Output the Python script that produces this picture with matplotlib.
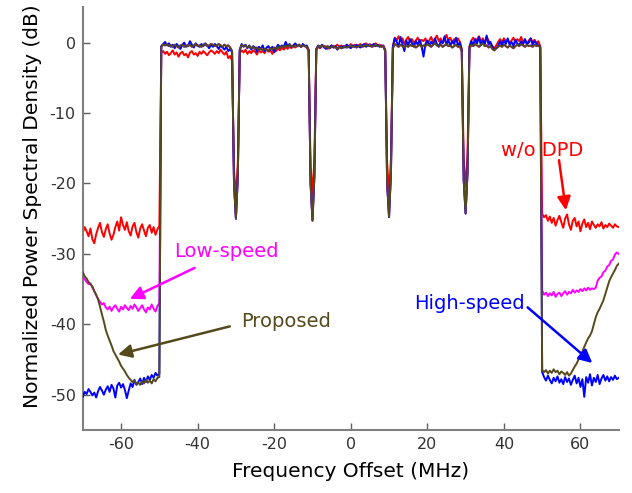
import matplotlib
matplotlib.use("Agg")
import matplotlib.pyplot as plt
import numpy as np

# frequency grid, 0.5 MHz steps from -70 to 70 MHz
freq = np.arange(-70, 70.25, 0.5)

# ---- out-of-band, left side (-70 .. -50 MHz) ----
red_left = [-27.0, -26.2, -26.8, -27.5, -26.4, -27.9, -28.5, -27.2, -26.3, -25.6,
            -26.9, -27.6, -26.5, -25.8, -27.1, -28.0, -27.3, -26.2, -25.4, -26.7,
            -24.8, -25.9, -26.6, -25.5, -26.8, -27.4, -26.1, -25.6, -26.9, -27.7,
            -26.4, -25.8, -26.7, -27.5, -26.3, -25.9, -27.0, -26.2, -27.3, -26.5,
            -26.0]
low_left = [-33.3, -33.6, -34.0, -34.3, -34.2, -34.8, -35.3, -35.9, -36.4, -36.8,
            -37.2, -37.0, -37.6, -37.9, -37.5, -38.1, -37.6, -37.3, -37.8, -38.2,
            -37.5, -37.9, -37.3, -37.7, -38.0, -37.4, -37.8, -37.2, -37.6, -38.1,
            -37.7, -37.3, -37.9, -38.3, -37.6, -37.9, -37.2, -37.8, -38.2, -37.4,
            -37.0]
high_left = [-50.3, -49.6, -49.9, -49.2, -49.6, -50.1, -49.7, -50.4, -49.5, -48.9,
             -49.4, -50.0, -49.3, -48.8, -49.6, -48.6, -49.1, -50.4, -48.7, -48.3,
             -49.0, -48.5, -49.3, -50.5, -49.4, -48.4, -48.9, -47.9, -48.6, -48.2,
             -47.7, -48.5, -47.6, -48.2, -47.4, -47.9, -47.2, -47.6, -46.9, -47.3,
             -47.0]
prop_left = [-32.6, -33.2, -33.5, -34.0, -34.3, -34.6, -35.3, -35.8, -36.5, -37.5,
             -38.6, -39.6, -40.8, -41.6, -42.3, -43.0, -43.8, -44.3, -44.8, -45.3,
             -45.9, -46.3, -46.7, -47.2, -47.6, -47.9, -48.2, -48.0, -48.5, -48.3,
             -48.6, -48.1, -48.4, -47.9, -48.3, -48.0, -48.4, -47.8, -48.1, -47.6,
             -47.5]

# ---- in-band (-49.5 .. 49.5 MHz): 5 carriers with gaps at -30, -10, 10, 30 ----
red_band = [
    -1.4, -1.2, -1.6, -1.3, -1.8, -1.5, -1.1, -1.7, -1.4, -2.0,
    -1.5, -1.3, -1.8, -1.6, -2.1, -1.4, -1.2, -1.7, -1.5, -1.9,
    -1.3, -1.6, -1.2, -1.5, -1.8, -1.4, -1.1, -1.3, -1.6, -1.2,
    -1.5, -1.0, -1.4, -1.7, -1.3, -2.2, -1.9, -2.6,
    -18.0, -22.0, -17.0,
    -1.5, -1.1, -1.4, -1.0, -1.6, -1.2, -1.5, -1.1, -1.3, -1.7,
    -1.0, -1.4, -1.2, -1.5, -0.9, -1.3, -1.1, -1.6, -1.0, -1.2,
    -0.8, -1.1, -0.7, -1.0, -0.6, -0.9, -0.5, -0.8, -0.4, -0.7,
    -0.5, -0.3, -0.6, -0.4, -0.5, -0.7, -1.2,
    -17.5, -21.5, -16.5,
    -1.0, -0.6, -0.8, -0.4, -0.7, -0.5, -0.9, -0.6, -0.4, -0.7,
    -0.5, -0.3, -0.6, -0.4, -0.7, -0.5, -0.3, -0.6, -0.2, -0.5,
    -0.3, -0.6, -0.4, -0.2, -0.5, -0.3, -0.1, -0.4, -0.2, -0.5,
    -0.3, -0.1, -0.4, -0.3, -0.5, -0.4, -1.0,
    -17.0, -21.3, -16.5,
    -0.5, 0.7, 0.3, 0.9, 0.2, 0.6, -0.2, 0.4, 0.8, 0.1,
    0.5, -0.1, 0.3, 0.7, 0.0, 0.4, 0.2, 0.6, -0.2, 0.3,
    0.8, 0.1, 0.5, 1.0, 0.2, 0.6, -0.1, 0.4, 1.1, 0.3,
    0.7, 0.0, 0.5, 0.2, 0.6, 0.1, -0.9,
    -16.5, -20.5, -16.0,
    -0.6, 0.3, 0.7, 0.1, 0.5, 0.9, 0.2, 0.6, -0.1, 0.8,
    0.3, -0.2, -0.5, -0.8, -0.4, 0.1, 0.5, 0.0, 0.6, 0.2,
    0.4, -0.1, 0.3, 0.7, 0.0, 0.5, 0.2, 0.8, 0.1, 0.4,
    -0.2, 0.3, 0.6, 0.1, 0.4, -0.1, 0.2, -0.5]
high_band = [
    -0.5, -0.2, 0.1, -0.4, -0.1, -0.6, -0.3, -0.8, -0.2, -0.5,
    -0.9, -0.3, 0.0, -0.6, -0.4, 0.2, -0.3, -0.7, -0.1, -0.4,
    -0.6, -0.2, -0.5, -0.1, -0.4, -0.8, -0.3, -0.6, -0.2, -0.5,
    -0.9, -0.4, -0.7, -1.0, -0.6, -1.2, -0.9, -1.4,
    -20.0, -25.0, -19.0,
    -1.1, -0.2, -0.6, -0.3, -0.8, -0.4, -1.0, -0.5, -0.7, -1.3,
    -0.6, -0.9, -0.4, -1.2, -0.7, -0.5, -1.0, -0.6, -1.4, -0.8,
    -0.3, -0.7, -0.4, -0.6, 0.1, -0.5, -0.2, -0.6, -0.4, -0.1,
    -0.5, -0.3, -0.6, -0.2, -0.5, -0.4, -1.0,
    -20.0, -25.2, -19.0,
    -0.9, -0.4, -0.7, -0.3, -0.6, -0.9, -0.5, -0.8, -0.4, -0.7,
    -0.5, -1.0, -0.6, -0.8, -0.5, -0.7, -0.3, -0.6, -0.8, -0.4,
    -0.6, -0.3, -0.5, -0.7, -0.4, -0.2, -0.6, -0.3, -0.5, -0.4,
    -0.2, -0.5, -0.3, -0.6, -0.4, -0.5, -1.1,
    -20.0, -24.8, -18.5,
    -0.6, 0.6, 0.1, -0.5, 0.8, -0.2, -1.2, 0.3, -0.4, 0.5,
    -0.1, -0.6, 0.2, -0.3, 0.4, -0.5, -2.0, -0.2, 0.3, -0.4,
    0.1, -0.3, 0.6, -0.2, -0.6, 0.2, -0.1, 0.9, -0.3, 0.4,
    -0.5, 0.2, -0.2, 0.7, -0.4, 0.0, -1.1,
    -19.5, -24.3, -18.5,
    -0.7, 0.2, -0.3, 0.5, -0.1, 0.8, -0.4, 0.3, -0.2, 1.0,
    -0.3, 0.1, -0.6, -1.0, -0.8, -0.5, 0.2, -0.4, 0.3, -0.2,
    0.6, -0.3, 0.1, -0.5, 0.4, -0.1, -0.4, 0.2, -0.3, 0.5,
    -0.2, 0.0, 0.6, -0.3, 0.2, -0.1, -0.4, -0.6]
prop_band = [
    -0.6, -0.3, -0.4, -0.2, -0.5, -0.4, -0.6, -0.3, -0.5, -0.7,
    -0.4, -0.3, -0.6, -0.4, -0.5, -0.3, -0.6, -0.4, -0.2, -0.5,
    -0.4, -0.6, -0.3, -0.2, -0.5, -0.4, -0.2, -0.3, -0.5, -0.4,
    -0.2, -0.4, -0.6, -0.3, -0.5, -0.4, -0.7, -1.2,
    -20.0, -25.0, -19.0,
    -1.0, -0.3, -0.5, -0.4, -0.7, -0.5, -0.8, -0.6, -0.9, -0.7,
    -1.0, -0.8, -1.1, -0.9, -1.0, -1.2, -0.8, -1.0, -0.7, -0.9,
    -0.6, -0.8, -0.5, -0.7, -0.4, -0.6, -0.3, -0.5, -0.6, -0.4,
    -0.5, -0.3, -0.6, -0.4, -0.5, -0.6, -1.1,
    -20.0, -25.3, -19.0,
    -1.0, -0.5, -0.6, -0.4, -0.5, -0.7, -0.6, -0.8, -0.6, -0.5,
    -0.7, -0.9, -0.6, -0.8, -0.7, -0.5, -0.7, -0.6, -0.4, -0.6,
    -0.5, -0.7, -0.5, -0.4, -0.6, -0.5, -0.3, -0.5, -0.4, -0.6,
    -0.5, -0.3, -0.5, -0.4, -0.6, -0.5, -1.2,
    -20.0, -24.7, -18.5,
    -0.8, -0.2, -0.4, -0.6, -0.3, -0.5, -0.7, -0.4, -0.6, -0.3,
    -0.5, -0.4, -0.7, -0.5, -0.3, -0.6, -0.4, -0.5, -0.2, -0.4,
    -0.6, -0.3, -0.1, -0.4, -0.5, -0.3, -0.6, -0.4, -0.2, -0.5,
    -0.4, -0.7, -0.5, -0.3, -0.6, -0.5, -1.3,
    -19.5, -24.2, -18.5,
    -0.9, -0.3, -0.5, -0.2, -0.4, -0.6, -0.3, -0.1, -0.5, -0.4,
    -0.7, -0.5, -0.9, -1.1, -0.8, -0.6, -0.4, -0.6, -0.3, -0.5,
    -0.7, -0.4, -0.6, -0.8, -0.5, -0.3, -0.5, -0.2, -0.4, -0.6,
    -0.3, -0.5, -0.4, -0.6, -0.3, -0.5, -0.4, -0.7]

# ---- out-of-band, right side (50 .. 70 MHz) ----
red_right = [-24.3, -24.8, -24.5, -25.3, -24.7, -25.6, -24.9, -26.0, -25.2, -24.6,
             -25.5, -26.3, -25.0, -24.4, -25.8, -26.6, -25.3, -24.9, -26.1, -25.4,
             -26.8, -25.7, -25.1, -26.2, -25.6, -26.5, -25.4, -25.9, -26.3, -25.8,
             -26.1, -25.5, -26.4, -25.9, -26.2, -25.7, -26.0, -26.3, -25.8, -26.1,
             -26.2]
low_right = [-35.2, -35.8, -35.5, -36.0, -35.6, -35.9, -35.4, -36.1, -35.7, -35.5,
             -36.0, -35.6, -35.3, -35.8, -35.4, -35.6, -35.1, -35.5, -35.2, -35.4,
             -35.0, -35.3, -34.9, -35.2, -34.8, -35.1, -34.9, -35.0, -34.8, -33.8,
             -33.4, -33.2, -32.6, -32.4, -31.8, -31.6, -31.0, -30.8, -30.1, -29.8,
             -30.0]
high_right = [-46.8, -47.5, -48.0, -47.3, -47.9, -48.4, -47.6, -48.1, -47.4, -48.3,
              -47.8, -48.5, -47.5, -48.2, -47.7, -48.6, -47.9, -47.3, -48.4, -47.6,
              -48.9, -47.8, -50.3, -47.5, -48.3, -47.1, -48.7, -47.6, -48.2, -47.2,
              -48.5, -47.7, -47.2, -48.0, -47.4, -48.1, -47.5, -47.9, -47.3, -47.8,
              -47.6]
prop_right = [-46.5, -46.8, -46.5, -47.0, -46.6, -46.9, -46.4, -46.8, -46.6, -47.1,
              -46.7, -46.9, -47.2, -46.8, -47.3, -47.0, -46.5, -46.0, -45.6, -45.0,
              -44.5, -43.9, -43.2, -42.6, -42.0, -41.6, -41.0, -40.0, -39.0, -38.3,
              -37.8, -37.2, -36.6, -35.7, -34.8, -33.9, -33.3, -32.8, -32.3, -31.7,
              -31.4]

wo_dpd = red_left + red_band + red_right
low_speed = low_left + prop_band + low_right   # in-band hidden under the others
high_speed = high_left + high_band + high_right
proposed = prop_left + prop_band + prop_right

c_red = '#ff0000'
c_mag = '#ff00ff'
c_blue = '#0000ff'
c_prop = '#564a1c'

plt.rcParams['font.family'] = ['DejaVu Sans']
plt.rcParams['axes.unicode_minus'] = False

fig, ax = plt.subplots(figsize=(6.32, 4.93), dpi=100)
fig.subplots_adjust(left=0.131, right=0.979, bottom=0.128, top=0.985)

ax.plot(freq, wo_dpd, color=c_red, lw=1.4, zorder=2)
ax.plot(freq, low_speed, color=c_mag, lw=1.4, zorder=3)
ax.plot(freq, high_speed, color=c_blue, lw=1.4, zorder=4)
ax.plot(freq, proposed, color=c_prop, lw=1.4, zorder=5)

ax.set_xlim(-70, 70)
ax.set_ylim(-55, 5)
ax.set_xticks([-60, -40, -20, 0, 20, 40, 60])
ax.set_yticks([-50, -40, -30, -20, -10, 0])
ax.set_xlabel('Frequency Offset (MHz)', fontsize=14.5, labelpad=7)
ax.set_ylabel('Normalized Power Spectral Density (dB)', fontsize=14.5)
ax.yaxis.set_label_coords(-0.077, 0.53)

for s in ['top', 'right']:
    ax.spines[s].set_visible(False)
for s in ['left', 'bottom']:
    ax.spines[s].set_color('#808080')
    ax.spines[s].set_linewidth(1.5)
ax.tick_params(direction='in', length=5, width=1, color='#606060',
               labelsize=11.5, labelcolor='#333333', pad=5)

# labels with arrows
notes = [
    ('w/o DPD', c_red, (50.0, -15.3), (54.4, -16.7), (56.2, -23.8)),
    ('Low-speed', c_mag, (-32.4, -29.7), (-40.8, -32.0), (-57.7, -36.4)),
    ('Proposed', c_prop, (-16.9, -39.6), (-31.6, -40.3), (-60.8, -44.3)),
    ('High-speed', c_blue, (30.9, -37.0), (46.2, -37.6), (63.1, -45.5)),
]
for txt, col, pos, tail, head in notes:
    ax.text(pos[0], pos[1], txt, color=col, fontsize=14, ha='center', va='center', zorder=6)
    ax.annotate('', xy=head, xytext=tail, zorder=6,
                arrowprops=dict(arrowstyle='-|>', color=col, lw=1.8,
                                mutation_scale=20, shrinkA=0, shrinkB=0))

fig.savefig('out.png', dpi=100)
